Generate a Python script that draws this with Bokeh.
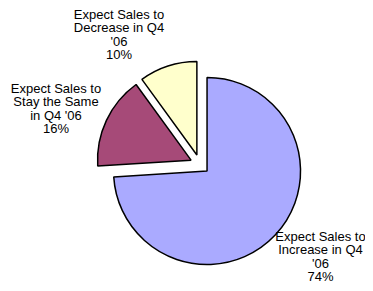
import numpy as np
from bokeh.plotting import figure
from bokeh.models import Range1d
from bokeh.core.properties import value
from bokeh.embed import file_html
from bokeh.resources import INLINE

# ---- data ----
categories = ["Expect Sales to\nIncrease in Q4\n'06",
              "Expect Sales to\nStay the Same\nin Q4 '06",
              "Expect Sales to\nDecrease in Q4\n'06"]
percents = [74, 16, 10]

# ---- styles / layout ----
colors = ["#AAAAFF", "#A64A78", "#FFFFCC"]
W, H = 365, 283
cx, cy = 199.4, H - 163.8
R = 93.5
explode = 9.8
label_anchor = [(320.0, H - 236.0), (55.5, H - 88.0), (118.5, H - 14.0)]
line_step = 13.4
FONT = "Liberation Sans"

p = figure(width=W, height=H, output_backend="svg", toolbar_location=None,
           x_range=Range1d(0, W), y_range=Range1d(0, H),
           x_axis_location=None, y_axis_location=None, min_border=0,
           outline_line_color=None, background_fill_color="white")
p.grid.visible = False

start = np.pi / 2
xs, ys, ss, es = [], [], [], []
for v in percents:
    sweep = v / 100 * 2 * np.pi
    s, e = start, start - sweep
    mid = (s + e) / 2
    xs.append(cx + explode * np.cos(mid))
    ys.append(cy + explode * np.sin(mid))
    ss.append(s)
    es.append(e)
    start = e

p.wedge(x=xs, y=ys, radius=R, start_angle=ss, end_angle=es, direction="clock",
        fill_color=colors, line_color="black", line_width=1.5)

tx, ty, tt = [], [], []
for cat, v, (ax, ay) in zip(categories, percents, label_anchor):
    lines = cat.split("\n") + [f"{v}%"]
    for i, ln in enumerate(lines):
        tx.append(ax)
        ty.append(ay - i * line_step)
        tt.append(ln)

p.text(x=tx, y=ty, text=tt, text_align="center", text_baseline="middle",
       text_font=value(FONT), text_font_size="13px", text_color="black")

open("out.html", "w").write(file_html(p, INLINE))
